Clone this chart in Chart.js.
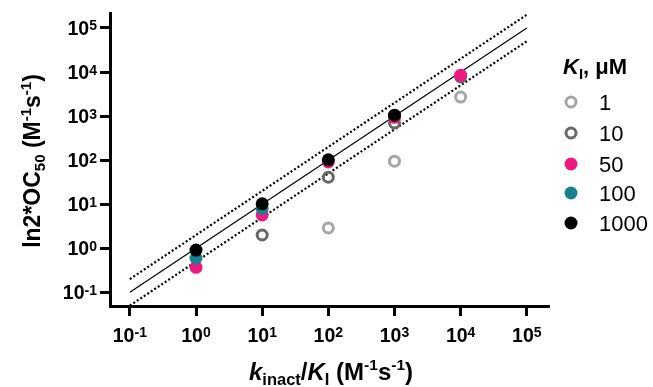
<!DOCTYPE html>
<html><head><meta charset="utf-8">
<script src="https://cdn.jsdelivr.net/npm/chart.js@4/dist/chart.umd.min.js"></script>
<style>html,body{margin:0;padding:0;background:#fff}</style>
</head><body>
<canvas id="c" width="653" height="387"></canvas>
<script>
// ---- data ----
const xValues = [1, 10, 100, 1000, 10000];          // kinact/KI
const seriesNames = ['1', '10', '50', '100', '1000'];  // KI, µM
const ki1    = [null, null, 2.9, 95, 2700];
const ki10   = [null, 2.0, 41, 700, 7800];
const ki50   = [0.37, 5.7, 91, 940, 8500];
const ki100  = [0.6, 8.0, null, null, null];
const ki1000 = [0.91, 10.2, 102, 1050, null];
const lineX  = [0.1, 100000];
const identityY = [0.1, 100000];
const upperY = [0.2, 200000];
const lowerY = [0.05, 50000];
const tickExponents = [-1, 0, 1, 2, 3, 4, 5];

const FAM = '"Liberation Sans", Arial, Helvetica, sans-serif';
const colors = ['#a6a6a6', '#676767', '#ef1a80', '#18808f', '#000000'];
const filled = [false, false, true, true, true];
const seriesVals = [ki1, ki10, ki50, ki100, ki1000];

function pts(ys, xs) {
  return xs.map((x, i) => ({x: x, y: ys[i]})).filter(p => p.y != null);
}

const datasets = [];
seriesVals.forEach((vals, i) => {
  datasets.push({
    label: seriesNames[i],
    data: pts(vals, xValues),
    showLine: false,
    pointRadius: filled[i] ? 6.5 : 5,
    pointBorderWidth: filled[i] ? 0 : 3,
    pointBackgroundColor: filled[i] ? colors[i] : 'rgba(0,0,0,0)',
    pointBorderColor: colors[i],
    order: 4 - i,
    isMarker: true,
    isFilled: filled[i]
  });
});
[[identityY, []], [upperY, [2, 2.2]], [lowerY, [2, 2.2]]].forEach((l, k) => {
  datasets.push({
    label: 'line' + k,
    data: pts(l[0], lineX),
    showLine: true,
    pointRadius: 0,
    borderColor: '#000',
    borderWidth: k === 0 ? 1.2 : 2.2,
    borderDash: l[1],
    order: 10 + k,
    clip: false
  });
});

function font(seg) {
  return (seg.italic ? 'italic ' : '') + (seg.bold === false ? '' : 'bold ') + seg.size + 'px ' + FAM;
}
function drawRich(ctx, segs, x, y, align) {
  let w = 0;
  segs.forEach(s => { ctx.font = font(s); s.w = ctx.measureText(s.t).width; w += s.w; });
  let cx = align === 'center' ? x - w / 2 : align === 'right' ? x - w : x;
  ctx.textAlign = 'left';
  ctx.textBaseline = 'alphabetic';
  segs.forEach(s => { ctx.font = font(s); ctx.fillText(s.t, cx, y + (s.dy || 0)); cx += s.w; });
}
function powerSegs(e) {
  return [{t: '10', size: 19.5}, {t: String(e), size: 14, dy: -4.5}];
}

const textPlugin = {
  id: 'texts',
  afterDraw(chart) {
    const ctx = chart.ctx;
    const xs = chart.scales.x, ys = chart.scales.y;
    ctx.save();
    ctx.fillStyle = '#000';
    tickExponents.forEach(e => {
      drawRich(ctx, powerSegs(e), xs.getPixelForValue(Math.pow(10, e)), 341.5, 'center');
      drawRich(ctx, powerSegs(e), 97, ys.getPixelForValue(Math.pow(10, e)) + 7, 'right');
    });
    // x title
    drawRich(ctx, [
      {t: 'k', size: 24, italic: true}, {t: 'inact', size: 16.5, dy: 5}, {t: '/', size: 24},
      {t: 'K', size: 24, italic: true}, {t: 'I', size: 16.5, dy: 5}, {t: ' (M', size: 24},
      {t: '-1', size: 15.5, dy: -9.5}, {t: 's', size: 24}, {t: '-1', size: 15.5, dy: -9.5}, {t: ')', size: 24}
    ], (chart.chartArea.left + chart.chartArea.right) / 2 + 2, 379.5, 'center');
    // y title
    ctx.save();
    ctx.translate(32, 161);
    ctx.rotate(-Math.PI / 2);
    drawRich(ctx, [
      {t: 'ln2*OC', size: 23}, {t: '50', size: 15, dy: 5}, {t: ' (M', size: 23},
      {t: '-1', size: 15, dy: -9}, {t: 's', size: 23}, {t: '-1', size: 15, dy: -9}, {t: ')', size: 23}
    ], 0, 8, 'center');
    ctx.restore();
    // legend
    drawRich(ctx, [{t: 'K', size: 22, italic: true}, {t: 'I', size: 15, dy: 5}, {t: ', μM', size: 22}], 563, 74, 'left');
    const legY = [102, 133, 164, 193, 223];
    chart.data.datasets.filter(d => d.isMarker).forEach((d, i) => {
      const y = legY[i];
      ctx.beginPath();
      if (d.isFilled) {
        ctx.arc(571, y, 6.5, 0, Math.PI * 2);
        ctx.fillStyle = d.pointBorderColor; ctx.fill();
      } else {
        ctx.arc(571, y, 5, 0, Math.PI * 2);
        ctx.lineWidth = 3; ctx.strokeStyle = d.pointBorderColor; ctx.stroke();
      }
      ctx.fillStyle = '#000';
      drawRich(ctx, [{t: d.label, size: 22, bold: false}], 599, y + 8, 'left');
    });
    ctx.restore();
  }
};

const axisCommon = {
  type: 'logarithmic',
  ticks: {display: false},
  grid: {drawOnChartArea: false, drawTicks: true, tickLength: 10, lineWidth: 3, color: '#000'},
  border: {display: true, width: 3, color: '#000'},
  afterBuildTicks: s => { s.ticks = tickExponents.map(e => ({value: Math.pow(10, e)})); }
};

new Chart(document.getElementById('c'), {
  type: 'scatter',
  data: {datasets: datasets},
  options: {
    responsive: false,
    animation: false,
    devicePixelRatio: 1,
    events: [],
    layout: {padding: {top: 13, right: 105, left: 0, bottom: 0}},
    plugins: {legend: {display: false}, tooltip: {enabled: false}},
    scales: {
      x: Object.assign({}, axisCommon, {
        min: Math.pow(10, -1.3), max: Math.pow(10, 5.32),
        afterFit: s => { s.height = 81; }
      }),
      y: Object.assign({}, axisCommon, {
        min: Math.pow(10, -1.31), max: Math.pow(10, 5.34),
        afterFit: s => { s.width = 110; }
      })
    }
  },
  plugins: [textPlugin]
});
</script>
</body></html>
